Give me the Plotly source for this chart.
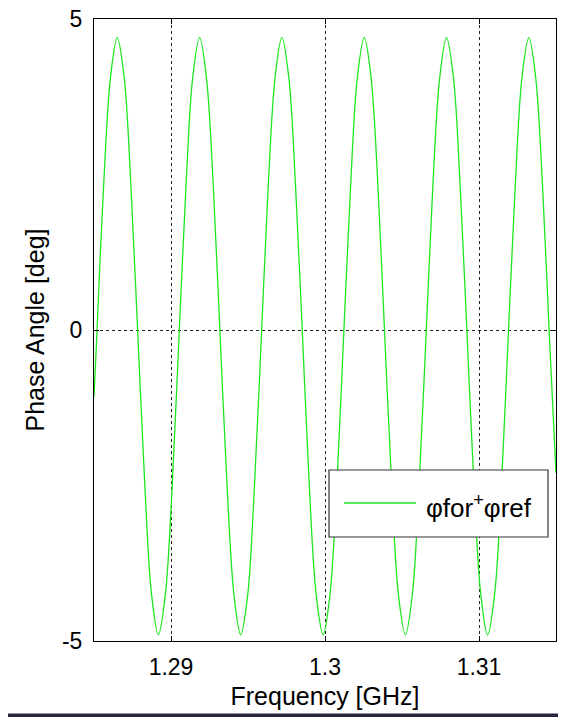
import plotly.graph_objects as go

# Frequency [GHz]
freq = [1.28500,
        1.28518, 1.28562, 1.28607, 1.28651, 1.28696, 1.28740, 1.28785, 1.28830, 1.28874, 1.28918, 1.28963, 1.29008,
        1.29052, 1.29097, 1.29141, 1.29186, 1.29230, 1.29275, 1.29319, 1.29364, 1.29409, 1.29453, 1.29498, 1.29542,
        1.29587, 1.29631, 1.29676, 1.29720, 1.29765, 1.29809, 1.29854, 1.29898, 1.29943, 1.29988, 1.30032, 1.30077,
        1.30121, 1.30166, 1.30210, 1.30255, 1.30299, 1.30344, 1.30388, 1.30433, 1.30477, 1.30522, 1.30567, 1.30611,
        1.30656, 1.30700, 1.30745, 1.30789, 1.30834, 1.30878, 1.30923, 1.30967, 1.31012, 1.31056, 1.31101, 1.31146,
        1.31190, 1.31235, 1.31279, 1.31324, 1.31368, 1.31413, 1.31457,
        1.31500]

# Phase angle [deg]
phase = [-1.08,
         -0.1, 2.3, 4.06, 4.7, 4.06, 2.3, -0.1, -2.5, -4.26, -4.9, -4.26, -2.5,
         -0.1, 2.3, 4.06, 4.7, 4.06, 2.3, -0.1, -2.5, -4.26, -4.9, -4.26, -2.5,
         -0.1, 2.3, 4.06, 4.7, 4.06, 2.3, -0.1, -2.5, -4.26, -4.9, -4.26, -2.5,
         -0.1, 2.3, 4.06, 4.7, 4.06, 2.3, -0.1, -2.5, -4.26, -4.9, -4.26, -2.5,
         -0.1, 2.3, 4.06, 4.7, 4.06, 2.3, -0.1, -2.5, -4.26, -4.9, -4.26, -2.5,
         -0.1, 2.3, 4.06, 4.7, 4.06, 2.3, -0.1,
         -2.3]

x_ticks = [1.29, 1.3, 1.31]
x_tick_labels = ["1.29", "1.3", "1.31"]
y_ticks = [-5, 0, 5]
y_tick_labels = ["-5", "0", "5"]
series_name = "φfor<sup>+</sup>φref"

FONT = "Arial, Liberation Sans, Helvetica, sans-serif"
LINE_COLOR = "#1ee61e"

fig = go.Figure()
fig.add_trace(go.Scatter(
    x=freq, y=phase, mode="lines",
    line=dict(color=LINE_COLOR, width=1.3, shape="spline", smoothing=1.0),
    name=series_name, showlegend=False,
))

axis_common = dict(
    showline=True, linecolor="black", linewidth=1, mirror="ticks",
    ticks="inside", ticklen=5, tickcolor="black", tickwidth=1,
    showgrid=True, gridcolor="#222222", gridwidth=1, griddash="3px,3px",
    zeroline=False, automargin=False, ticklabeloverflow="allow",
    tickfont=dict(family=FONT, size=23, color="black"),
)

fig.update_xaxes(range=[1.285, 1.315], tickvals=x_ticks, ticktext=x_tick_labels,
                 title=dict(text="Frequency [GHz]", font=dict(family=FONT, size=25, color="black"), standoff=8),
                 ticklabelstandoff=5, **axis_common)
fig.update_yaxes(range=[-5, 5], tickvals=y_ticks, ticktext=y_tick_labels,
                 title=dict(text="Phase Angle [deg]", font=dict(family=FONT, size=25, color="black"), standoff=10),
                 ticklabelstandoff=6, **axis_common)

# The page puts the figure 8 px in from the top-left corner of the window,
# so the figure is 558 x 709 and the margins are set to land the plot area
# at window px x 94..556, y 19..641 (462 x 622 px).
PW, PH = 462.0, 622.0
def px(v):
    return (v - 94) / PW
def py(v):
    return (641 - v) / PH

shapes = [
    dict(type="rect", xref="paper", yref="paper",
         x0=px(329), x1=px(548), y0=py(537), y1=py(470),
         fillcolor="white", line=dict(color="#333333", width=1.2), layer="above"),
    dict(type="line", xref="paper", yref="paper",
         x0=px(344), x1=px(416), y0=py(503), y1=py(503),
         line=dict(color=LINE_COLOR, width=1.3), layer="above"),
    dict(type="rect", xref="paper", yref="paper",
         x0=-86 / PW, x1=1 + 10 / PW, y0=py(717.5), y1=py(713.5),
         fillcolor="#2a2440", line=dict(width=0), layer="above"),
]

fig.update_layout(
    width=558, height=709,
    margin=dict(l=86, r=10, t=11, b=76),
    paper_bgcolor="white", plot_bgcolor="white",
    font=dict(family=FONT, color="black"),
    showlegend=False,
    shapes=shapes,
    annotations=[dict(xref="paper", yref="paper", x=px(424), y=py(506),
                      xanchor="left", yanchor="middle", showarrow=False,
                      text=series_name,
                      font=dict(family=FONT, size=26, color="black"))],
)

fig.write_html("out.html")
